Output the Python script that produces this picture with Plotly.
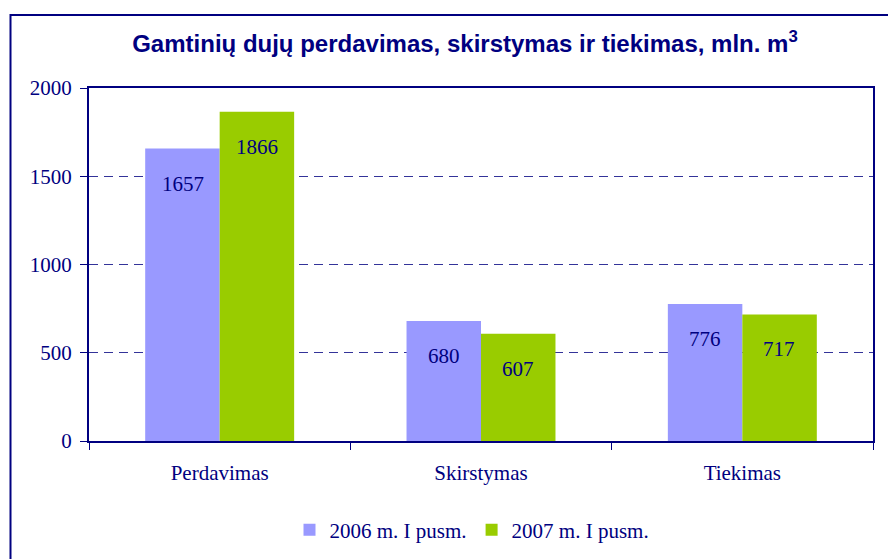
import plotly.graph_objects as go

categories = ["Perdavimas", "Skirstymas", "Tiekimas"]
series_names = ["2006 m. I pusm.", "2007 m. I pusm."]
values_2006 = [1657, 680, 776]
values_2007 = [1866, 607, 717]
y_tick_vals = [0, 500, 1000, 1500, 2000]

NAVY = "#000080"
COLORS = ["#9999FF", "#99CC00"]
SERIF = "Liberation Serif, Times New Roman, serif"
SANS = "Liberation Sans, Arial, sans-serif"

W, H = 888, 559
L, R, T, B = 89, 873, 88, 441

fig = go.Figure()
for name, vals, col in zip(series_names, [values_2006, values_2007], COLORS):
    fig.add_trace(go.Bar(
        x=categories, y=vals, name=name, marker=dict(color=col, line=dict(width=0)),
        offsetgroup=name,
    ))

# value labels inside bars, near the top
annotations = []
for i, (name, vals) in enumerate(zip(series_names, [values_2006, values_2007])):
    for c, v in zip(categories, vals):
        annotations.append(dict(
            x=c, y=v, xref="x", yref="y", text=str(v), showarrow=False,
            xshift=(-37 if i == 0 else 37), yshift=-35,
            font=dict(family=SERIF, size=21, color=NAVY),
        ))

pw, ph = R - L, B - T
def px_x(p):
    return (p - L) / pw
def px_y(p):
    return (B - p) / ph

shapes = [
    dict(type="rect", xref="paper", yref="paper",
         x0=px_x(10.5), x1=px_x(920), y0=px_y(600), y1=px_y(15),
         line=dict(color=NAVY, width=2), fillcolor="rgba(0,0,0,0)", layer="below"),
]

fig.update_layout(
    width=W, height=H,
    margin=dict(l=L, r=W - R, t=T, b=H - B, pad=0),
    paper_bgcolor="white", plot_bgcolor="white",
    barmode="group", bargap=0.43, bargroupgap=0,
    title=dict(
        text="Gamtinių dujų perdavimas, skirstymas ir tiekimas, mln. m<sup>3</sup>",
        font=dict(family=SANS, size=24, color=NAVY, weight="bold"),
        x=465 / W, xanchor="center", xref="container",
        y=1 - 44 / H, yanchor="middle", yref="container",
    ),
    legend=dict(
        orientation="h", x=472 / W, xanchor="center", xref="container",
        y=1 - 530 / H, yanchor="middle", yref="container",
        font=dict(family=SERIF, size=21, color=NAVY),
        itemwidth=30, tracegroupgap=0, traceorder="normal",
    ),
    xaxis=dict(
        type="category", tickson="boundaries", ticks="outside", ticklen=7,
        tickcolor=NAVY, tickwidth=1,
        showline=True, linecolor=NAVY, linewidth=2, mirror=True,
        showgrid=False, tickfont=dict(family=SERIF, size=21, color=NAVY),
        ticklabelstandoff=12,
    ),
    yaxis=dict(
        range=[0, 2000], tickvals=y_tick_vals, ticks="outside", ticklen=7,
        tickcolor=NAVY, tickwidth=1,
        showline=True, linecolor=NAVY, linewidth=2, mirror=True,
        showgrid=True, gridcolor="#333399", gridwidth=1, griddash="9px,6px",
        zeroline=False,
        tickfont=dict(family=SERIF, size=21, color=NAVY),
        ticklabelstandoff=4,
    ),
    annotations=annotations,
    shapes=shapes,
    showlegend=True,
)

fig.write_html(
    "out.html",
    config={"displayModeBar": False},
    post_script="document.body.style.margin='0';document.body.style.padding='0';",
)
